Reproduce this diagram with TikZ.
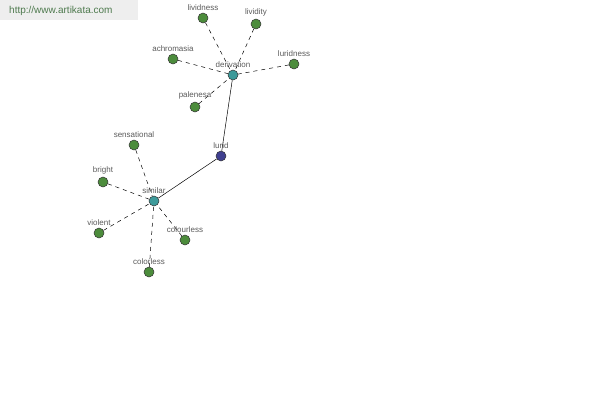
\documentclass[tikz,border=0pt]{standalone}
\usepackage{fontspec}
\setmainfont{Liberation Sans}
\usepackage{tikz}
\usetikzlibrary{positioning}
\definecolor{leafgreen}{HTML}{4C8C3C}
\definecolor{hubteal}{HTML}{3D9A9A}
\definecolor{rootblue}{HTML}{3F3F8F}
\definecolor{labelgray}{HTML}{5A5A5A}
\definecolor{bannergray}{HTML}{EEEEEE}
\definecolor{bannertext}{HTML}{4E7A4E}

\begin{document}
\begin{tikzpicture}[
  x=1pt, y=-1pt,
  font=\fontsize{8}{9}\selectfont,
  dot/.style={circle,draw=black!80,line width=0.5pt,minimum size=10pt,inner sep=0pt},
  leaf/.style={dot,fill=leafgreen},
  hub/.style={dot,fill=hubteal},
  root/.style={dot,fill=rootblue},
  lbl/.style={text=labelgray,inner sep=0pt},
  link/.style={line width=0.5pt},
  syn/.style={line width=0.5pt,dashed,dash pattern=on 4pt off 4pt}
]
\useasboundingbox (0,0) rectangle (600,400);
\fill[bannergray] (0,0) rectangle (138,20);
\node[text=bannertext,font=\fontsize{10}{11}\selectfont,anchor=west,inner sep=0pt] (site) at (9,11) {http://www.artikata.com};
% hubs
\node[root] (lurid) at (221,156) {};
\node[hub] (derivation) at (233,75) {};
\node[hub] (similar) at (154,201) {};
% leaves
\node[leaf] (lividness) at (203,18) {};
\node[leaf] (lividity) at (256,24) {};
\node[leaf] (achromasia) at (173,59) {};
\node[leaf] (luridness) at (294,64) {};
\node[leaf] (palenesa) at (195,107) {};
\node[leaf] (sensational) at (134,145) {};
\node[leaf] (bright) at (103,182) {};
\node[leaf] (violent) at (99,233) {};
\node[leaf] (colourless) at (185,240) {};
\node[leaf] (colorless) at (149,272) {};
% edges
\draw[link] (lurid) -- (derivation);
\draw[link] (lurid) -- (similar);
\foreach \w in {lividness,lividity,achromasia,luridness,palenesa}
  \draw[syn] (\w) -- (derivation);
\foreach \w in {sensational,bright,violent,colourless,colorless}
  \draw[syn] (\w) -- (similar);
% labels
\foreach \w in {lurid,derivation,similar,lividness,lividity,achromasia,luridness,palenesa,sensational,bright,violent,colourless,colorless}
  \node[lbl,above=2pt of \w] (\w-lbl) {\w};
\end{tikzpicture}
\end{document}
